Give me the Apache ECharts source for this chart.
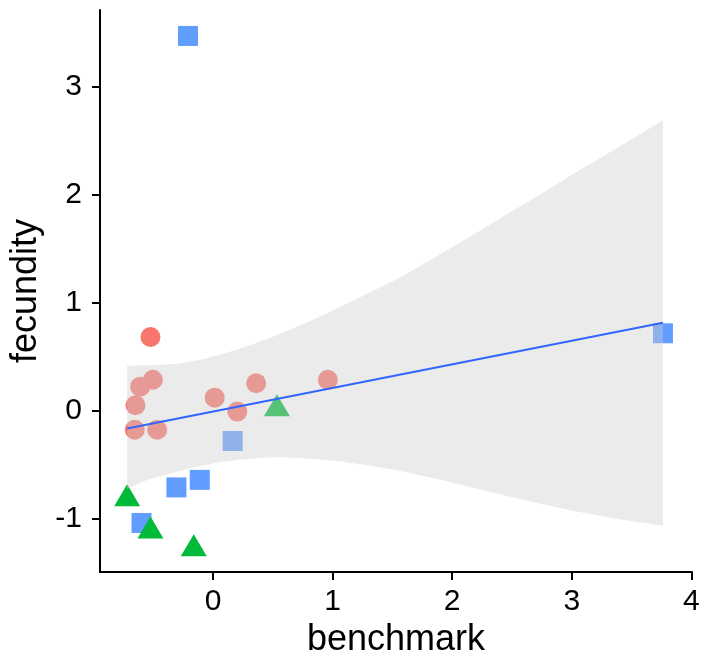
<!DOCTYPE html>
<html>
<head>
<meta charset="utf-8">
<script src="https://cdn.jsdelivr.net/npm/echarts@6/dist/echarts.min.js"></script>
<style>
  html, body { margin: 0; padding: 0; background: #fff; }
  #chart { width: 717px; height: 663px; }
</style>
</head>
<body>
<div id="chart"></div>
<script>
// points [benchmark, fecundity]
const circlePts = [[-0.523, 0.687], [-0.609, 0.227], [-0.503, 0.291], [-0.648, 0.055], [-0.654, -0.172],
  [-0.467, -0.172], [0.014, 0.125], [0.203, -0.004], [0.361, 0.258], [0.96, 0.291]];
const trianglePts = [[-0.718, -0.812], [-0.523, -1.11], [-0.161, -1.273], [0.534, 0.023]];
const squarePts = [[-0.209, 3.474], [3.762, 0.721], [0.164, -0.276], [-0.306, -0.706], [-0.111, -0.636], [-0.598, -1.035]];

// fitted line and the edges of its confidence band
const fitLine = [[-0.718, -0.16], [3.762, 0.819]];
const bandUpper = [[-0.718, 0.42], [-0.5, 0.425], [-0.3, 0.44], [-0.1, 0.475], [0.1, 0.535], [0.317, 0.613],
  [0.5, 0.69], [0.735, 0.797], [0.95, 0.905], [1.152, 1.013], [1.35, 1.12], [1.569, 1.24], [1.903, 1.456],
  [2.2, 1.65], [2.46, 1.826], [2.75, 2.015], [3.016, 2.2], [3.4, 2.45], [3.762, 2.694]];
const bandLower = [[-0.718, -0.72], [-0.55, -0.635], [-0.378, -0.584], [-0.2, -0.53], [0.039, -0.476],
  [0.25, -0.445], [0.457, -0.43], [0.65, -0.43], [0.874, -0.446], [1.1, -0.47], [1.291, -0.5], [1.569, -0.555],
  [1.903, -0.635], [2.2, -0.715], [2.46, -0.785], [2.75, -0.86], [3.016, -0.925], [3.4, -1.0], [3.762, -1.062]];

const xTicks = [0, 1, 2, 3, 4];
const yTicks = [-1, 0, 1, 2, 3];

const chart = echarts.init(document.getElementById('chart'), null, { renderer: 'canvas' });

const font = 'Liberation Sans, Arial, sans-serif';
const axisCommon = {
  type: 'value',
  splitLine: { show: false },
  axisLine: { show: true, onZero: false, lineStyle: { color: '#000', width: 2 } },
  axisTick: { show: true, inside: false, length: 8, lineStyle: { color: '#000', width: 2 } },
  axisLabel: { color: '#000', fontSize: 30, fontFamily: font },
  nameLocation: 'middle',
  nameTextStyle: { color: '#000', fontSize: 36, fontFamily: font }
};

chart.setOption({
  animation: false,
  backgroundColor: '#fff',
  grid: { left: 99, right: 25, top: 10, bottom: 88, containLabel: false },
  xAxis: Object.assign({}, axisCommon, {
    min: -0.945, max: 4.005,
    name: 'benchmark', nameGap: 47,
    axisTick: Object.assign({}, axisCommon.axisTick, { customValues: xTicks }),
    axisLabel: Object.assign({}, axisCommon.axisLabel, { customValues: xTicks, margin: 15 })
  }),
  yAxis: Object.assign({}, axisCommon, {
    min: -1.49, max: 3.714,
    name: 'fecundity', nameGap: 56,
    axisTick: Object.assign({}, axisCommon.axisTick, { customValues: yTicks }),
    axisLabel: Object.assign({}, axisCommon.axisLabel, { customValues: yTicks, margin: 18 })
  }),
  series: [
    {
      type: 'scatter', z: 2, data: circlePts,
      symbol: 'circle', symbolSize: 20,
      itemStyle: { color: '#F8766D', opacity: 1 }
    },
    {
      type: 'scatter', z: 2, data: squarePts,
      symbol: 'rect', symbolSize: 20,
      itemStyle: { color: '#619CFF', opacity: 1 }
    },
    {
      type: 'scatter', z: 2, data: trianglePts,
      symbol: 'triangle', symbolSize: [26, 22], symbolOffset: [0, -3.5],
      itemStyle: { color: '#00BA38', opacity: 1 }
    },
    {
      // grey band, drawn over the points as in the original
      type: 'custom', z: 3, silent: true,
      data: [bandUpper[0]],
      renderItem: function (params, api) {
        const pts = bandUpper.map(p => api.coord(p));
        for (let i = bandLower.length - 1; i >= 0; i--) pts.push(api.coord(bandLower[i]));
        return {
          type: 'polygon',
          shape: { points: pts },
          style: { fill: 'rgba(206,206,206,0.41)', stroke: null }
        };
      }
    },
    {
      type: 'line', z: 4, data: fitLine,
      symbol: 'none',
      lineStyle: { color: '#3366FF', width: 2 }
    }
  ]
});
</script>
</body>
</html>
